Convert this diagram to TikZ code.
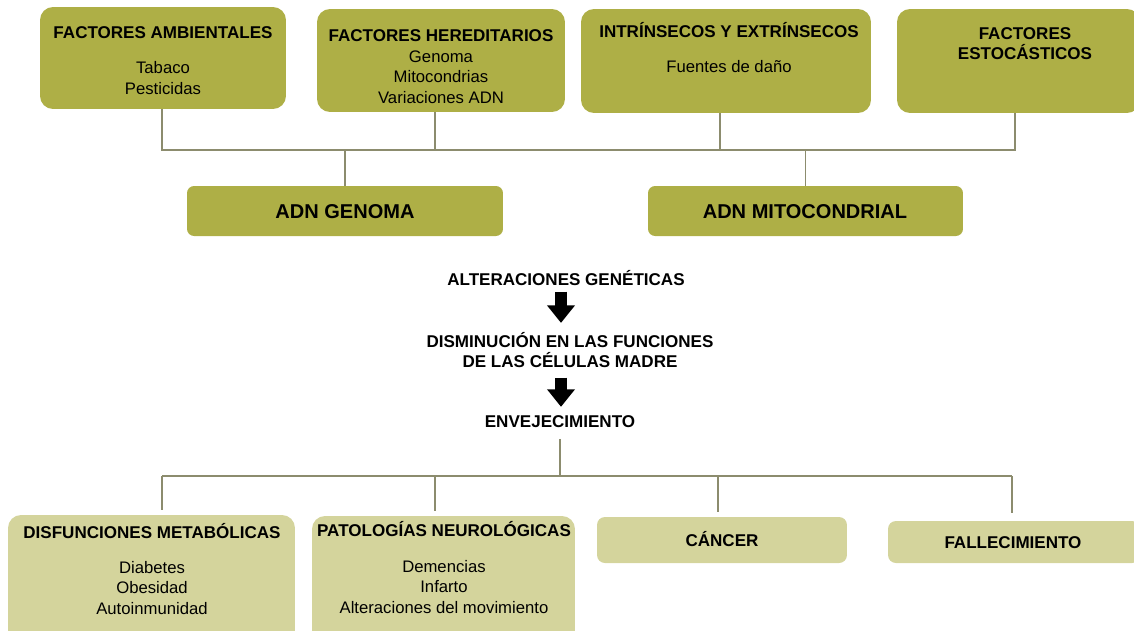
\documentclass[tikz,border=0pt]{standalone}
\usepackage{fontspec}
\setmainfont{Liberation Sans}
\usetikzlibrary{arrows.meta}
\definecolor{oliva}{RGB}{174,175,70}
\definecolor{olivaclara}{RGB}{212,212,156}
\definecolor{linea}{RGB}{140,140,110}
\tikzset{
  caja/.style={fill=oliva,rounded corners=7.4pt,inner sep=0pt},
  cajaclara/.style={fill=olivaclara,rounded corners=7.4pt,inner sep=0pt},
  titulo/.style={font=\fontsize{9.7}{11.3}\selectfont\bfseries,align=center,inner sep=0pt,anchor=base},
  texto/.style={font=\fontsize{9.5}{11.6}\selectfont,align=center,inner sep=0pt,anchor=base},
  enlace/.style={draw=linea,line width=0.6pt},
  flecha/.style={line width=6.8pt,-{Triangle[width=15.3pt,length=10pt]}},
}
\begin{document}
\begin{tikzpicture}[x=0.02cm,y=-0.02cm]
  \useasboundingbox (0,0) rectangle (1134,630);
  % factores
  \node[caja,minimum width=4.92cm,minimum height=2.04cm] (amb) at (163,58) {};
  \node[caja,minimum width=4.96cm,minimum height=2.06cm] (hered) at (441,60.5) {};
  \node[caja,minimum width=5.8cm,minimum height=2.08cm] (intr) at (726,61) {};
  \node[caja,minimum width=4.86cm,minimum height=2.08cm] (esto) at (1018.5,61) {};
  \node[titulo] (ambT) at (163,38) {FACTORES AMBIENTALES};
  \node[texto] (ambB) at (163,94) {Tabaco\\Pesticidas};
  \node[titulo] (heredT) at (441,41) {FACTORES HEREDITARIOS};
  \node[texto] (heredB) at (441,103) {Genoma\\Mitocondrias\\Variaciones ADN};
  \node[titulo] (intrT) at (729,37) {INTRÍNSECOS Y EXTRÍNSECOS};
  \node[texto] (intrB) at (729,72) {Fuentes de daño};
  \node[titulo] (estoT) at (1025,59) {FACTORES\\ESTOCÁSTICOS};
  % adn
  \node[caja,rounded corners=4pt,minimum width=6.32cm,minimum height=1cm] (adng) at (345,211) {};
  \node[caja,rounded corners=4pt,minimum width=6.3cm,minimum height=1cm] (adnm) at (805.5,211) {};
  \node[titulo,font=\fontsize{11.4}{13}\selectfont\bfseries] (adngT) at (345,218) {ADN GENOMA};
  \node[titulo,font=\fontsize{11.4}{13}\selectfont\bfseries] (adnmT) at (805,218) {ADN MITOCONDRIAL};
  \coordinate (b1) at (162,150);
  \coordinate (b2) at (435,150);
  \coordinate (b3) at (720,150);
  \coordinate (b4) at (1015,150);
  \draw[enlace] (b1 |- amb.south) -- (b1) -- (b4) -- (b4 |- esto.south);
  \draw[enlace] (b2 |- hered.south) -- (b2);
  \draw[enlace] (b3 |- intr.south) -- (b3);
  \draw[enlace] (adng.north) -- (adng.north |- b1);
  \draw[enlace] (adnm.north) -- (adnm.north |- b1);
  % centro
  \node[titulo] (alt) at (566,285) {ALTERACIONES GENÉTICAS};
  \node[titulo] (dism) at (570,367) {DISMINUCIÓN EN LAS FUNCIONES\\DE LAS CÉLULAS MADRE};
  \node[titulo] (env) at (560,427) {ENVEJECIMIENTO};
  \draw[flecha,shorten <=3.4pt,shorten >=5pt] (alt.south -| 561,0) -- (dism.north -| 561,0);
  \draw[flecha,shorten <=5.7pt,shorten >=4.5pt] (dism.south -| 561,0) -- (env.north -| 561,0);
  % consecuencias
  \node[cajaclara,minimum width=5.74cm,minimum height=2.6cm] (disf) at (151.5,580) {};
  \node[cajaclara,minimum width=5.26cm,minimum height=2.58cm] (pato) at (443.5,580.5) {};
  \node[cajaclara,rounded corners=4.5pt,minimum width=5cm,minimum height=0.92cm] (cancer) at (722,540) {};
  \node[cajaclara,rounded corners=4.5pt,minimum width=5.04cm,minimum height=0.84cm] (fall) at (1014,542) {};
  \node[titulo] (disfT) at (152,538) {DISFUNCIONES METABÓLICAS};
  \node[texto] (disfB) at (152,614) {Diabetes\\Obesidad\\Autoinmunidad};
  \node[titulo] (patoT) at (444,536) {PATOLOGÍAS NEUROLÓGICAS};
  \node[texto] (patoB) at (444,613) {Demencias\\Infarto\\Alteraciones del movimiento};
  \node[titulo] (cancerT) at (722,546) {CÁNCER};
  \node[titulo] (fallT) at (1013,548) {FALLECIMIENTO};
  \coordinate (c1) at (162,476);
  \coordinate (c2) at (435,476);
  \coordinate (c3) at (718,476);
  \coordinate (c4) at (1012,476);
  \draw[enlace,shorten <=6.5pt] (env.south) -- (env.south |- c1);
  \draw[enlace] (c1) -- (c4);
  \draw[enlace,shorten >=2.5pt] (c1) -- (c1 |- disf.north);
  \draw[enlace,shorten >=2.5pt] (c2) -- (c2 |- pato.north);
  \draw[enlace,shorten >=2.5pt] (c3) -- (c3 |- cancer.north);
  \draw[enlace,shorten >=4.5pt] (c4) -- (c4 |- fall.north);
\end{tikzpicture}
\end{document}
